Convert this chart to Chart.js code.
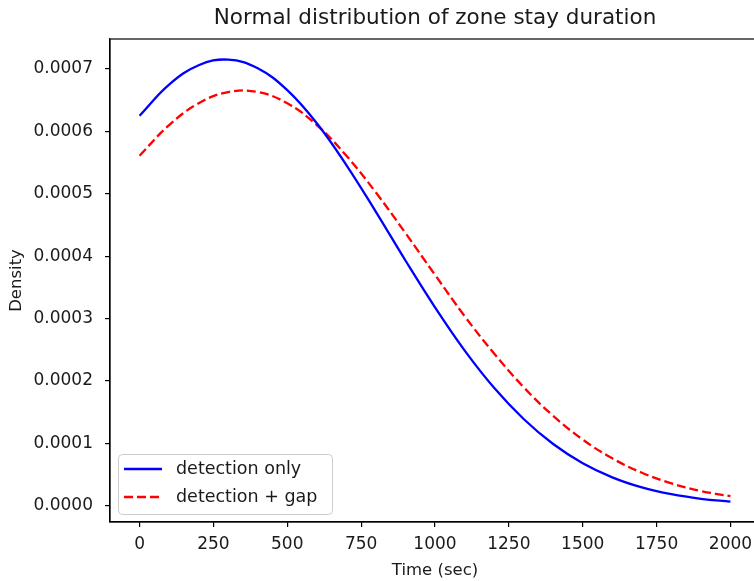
<!DOCTYPE html>
<html>
<head>
<meta charset="utf-8">
<script src="https://cdn.jsdelivr.net/npm/chart.js@4.4.1/dist/chart.umd.min.js"></script>
<style>
  html, body { margin: 0; padding: 0; background: #fff; overflow: hidden; }
  #wrap { width: 754px; height: 581px; overflow: hidden; position: relative; }
  canvas { display: block; }
</style>
</head>
<body>
<div id="wrap"><canvas id="c" width="770" height="581"></canvas></div>
<script>
const chartTitle = "Normal distribution of zone stay duration";
const xTitle = "Time (sec)";
const yTitle = "Density";
const seriesLabels = ["detection only", "detection + gap"];
const timeValues = [0, 100, 200, 300, 400, 500, 600, 700, 800, 900, 1000, 1100, 1200, 1300, 1400, 1500, 1600, 1700, 1800, 1900, 2000];
const detectionOnly = [0.000625, 0.000675, 0.000706, 0.000715, 0.000701, 0.000666, 0.000613, 0.000546, 0.000471, 0.000393, 0.000318, 0.000249, 0.000189, 0.000139, 0.0000989, 0.0000681, 0.0000455, 0.0000294, 0.0000184, 0.0000111, 0.0000065];
const detectionGap = [0.000561, 0.000610, 0.000645, 0.000663, 0.000663, 0.000645, 0.000610, 0.000561, 0.000502, 0.000437, 0.000370, 0.000304, 0.000244, 0.000190, 0.000144, 0.000106, 0.0000759, 0.0000529, 0.0000359, 0.0000236, 0.0000152];
const xTicks = [0, 250, 500, 750, 1000, 1250, 1500, 1750, 2000];
const yTicks = [0, 0.0001, 0.0002, 0.0003, 0.0004, 0.0005, 0.0006, 0.0007];

const FONT = "'DejaVu Sans', sans-serif";
const TEXT = '#1a1a1a';

const framePlugin = {
  id: 'frame',
  afterDatasetsDraw(chart) {
    const { ctx, chartArea: a } = chart;
    ctx.save();
    ctx.strokeStyle = '#000';
    ctx.lineWidth = 1.2;
    ctx.strokeRect(a.left, a.top, a.right - a.left, a.bottom - a.top);
    ctx.restore();
  },
  afterDraw(chart) {
    const { ctx, chartArea: a } = chart;
    ctx.save();
    // title
    ctx.fillStyle = TEXT;
    ctx.font = "21.5px " + FONT;
    ctx.textAlign = 'center';
    ctx.textBaseline = 'middle';
    ctx.fillText(chartTitle, (a.left + a.right) / 2, 18);
    // legend
    const bx = 118.5, by = 454.5, bw = 214, bh = 60;
    ctx.beginPath();
    ctx.roundRect(bx, by, bw, bh, 4);
    ctx.fillStyle = 'rgba(255,255,255,0.8)';
    ctx.fill();
    ctx.strokeStyle = '#cccccc';
    ctx.lineWidth = 1;
    ctx.stroke();
    const rows = [469, 497];
    chart.data.datasets.forEach((ds, i) => {
      const y = rows[i];
      ctx.beginPath();
      ctx.setLineDash(ds.borderDash || []);
      ctx.strokeStyle = ds.borderColor;
      ctx.lineWidth = ds.borderWidth;
      ctx.moveTo(124, y);
      ctx.lineTo(162, y);
      ctx.stroke();
      ctx.setLineDash([]);
      ctx.fillStyle = TEXT;
      ctx.font = "17.5px " + FONT;
      ctx.textAlign = 'left';
      ctx.textBaseline = 'middle';
      ctx.fillText(ds.label, 176, y);
    });
    ctx.restore();
  }
};

new Chart(document.getElementById('c'), {
  type: 'line',
  data: {
    datasets: [
      {
        label: seriesLabels[0],
        data: timeValues.map((t, i) => ({ x: t, y: detectionOnly[i] })),
        borderColor: '#0000ff',
        borderWidth: 2.3,
        pointRadius: 0,
        tension: 0.4,
        fill: false
      },
      {
        label: seriesLabels[1],
        data: timeValues.map((t, i) => ({ x: t, y: detectionGap[i] })),
        borderColor: '#ff0000',
        borderWidth: 2.3,
        borderDash: [9, 4],
        pointRadius: 0,
        tension: 0.4,
        fill: false
      }
    ]
  },
  options: {
    responsive: false,
    animation: false,
    devicePixelRatio: 1,
    layout: { padding: { top: 39, right: 10, left: 0, bottom: 0 } },
    plugins: {
      legend: { display: false },
      title: { display: false },
      tooltip: { enabled: false }
    },
    scales: {
      x: {
        type: 'linear',
        min: -100,
        max: 2100,
        afterFit(s) { s.height = 59; },
        afterBuildTicks(s) { s.ticks = xTicks.map(v => ({ value: v })); },
        grid: { display: true, drawOnChartArea: false, drawTicks: true, tickLength: 5, color: '#000', lineWidth: 1.2 },
        border: { display: true, color: '#000', width: 1.2 },
        ticks: { color: TEXT, font: { family: FONT, size: 17 }, padding: 7, maxRotation: 0, autoSkip: false,
                 callback: v => String(v) },
        title: { display: true, text: xTitle, color: TEXT, font: { family: FONT, size: 16.5 }, padding: { top: 0, bottom: 0 } }
      },
      y: {
        type: 'linear',
        min: -0.0000261,
        max: 0.000748,
        afterFit(s) { s.width = 110; },
        afterBuildTicks(s) { s.ticks = yTicks.map(v => ({ value: v })); },
        grid: { display: true, drawOnChartArea: false, drawTicks: true, tickLength: 5, color: '#000', lineWidth: 1.2 },
        border: { display: true, color: '#000', width: 1.2 },
        ticks: { color: TEXT, font: { family: FONT, size: 17 }, padding: 12, autoSkip: false,
                 callback: v => Number(v).toFixed(4) },
        title: { display: true, text: yTitle, color: TEXT, font: { family: FONT, size: 16.5 }, padding: { top: 7, bottom: 0 } }
      }
    }
  },
  plugins: [framePlugin]
});
</script>
</body>
</html>
